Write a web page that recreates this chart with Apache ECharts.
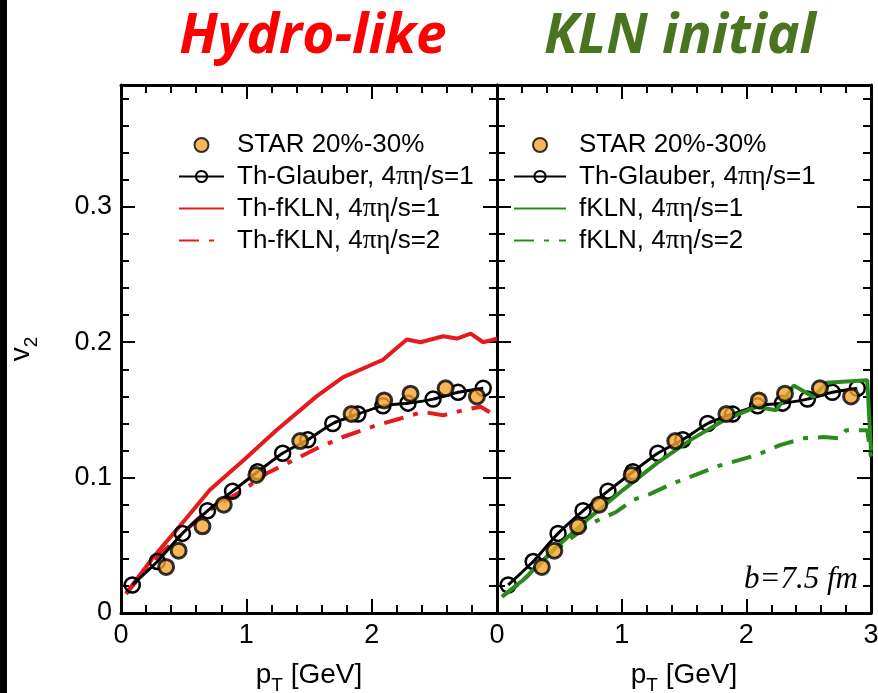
<!DOCTYPE html>
<html>
<head>
<meta charset="utf-8">
<script src="https://cdn.jsdelivr.net/npm/echarts@6/dist/echarts.min.js"></script>
<style>html,body{margin:0;padding:0;background:#fff}#c{width:878px;height:693px}</style>
</head>
<body>
<div id="c"></div>
<script>
// ---- data ----
const STAR_PT = [0.36, 0.46, 0.65, 0.82, 1.08, 1.43, 1.84, 2.10, 2.31, 2.59, 2.84];
const STAR_V2 = [0.034, 0.046, 0.064, 0.080, 0.102, 0.127, 0.147, 0.157, 0.162, 0.166, 0.160];

const GLAUBER_PT = [0.09, 0.29, 0.49, 0.69, 0.89, 1.09, 1.29, 1.49, 1.69, 1.89, 2.09, 2.29, 2.49, 2.69, 2.89];
const GLAUBER_V2 = [0.0207, 0.038, 0.0588, 0.0755, 0.090, 0.1043, 0.118, 0.128, 0.140, 0.147, 0.153, 0.155, 0.158, 0.163, 0.166];

const THFKLN1_PT = [0.04, 0.26, 0.44, 0.71, 0.98, 1.24, 1.56, 1.77, 2.04, 2.09, 2.28, 2.39, 2.57, 2.68, 2.79, 2.89, 3.0];
const THFKLN1_V2 = [0.0145, 0.0416, 0.061, 0.091, 0.113, 0.135, 0.160, 0.174, 0.185, 0.187, 0.202, 0.200, 0.2044, 0.2027, 0.2064, 0.200, 0.2027];

const THFKLN2_PT = [0.04, 0.26, 0.45, 0.66, 0.98, 1.16, 1.40, 1.56, 1.77, 2.04, 2.23, 2.41, 2.57, 2.73, 2.87, 3.0];
const THFKLN2_V2 = [0.014, 0.039, 0.055, 0.0736, 0.091, 0.103, 0.114, 0.1215, 0.130, 0.1387, 0.1437, 0.1486, 0.146, 0.1498, 0.1523, 0.145];

const FKLN1_PT = [0.04, 0.21, 0.48, 0.75, 1.01, 1.28, 1.55, 1.82, 2.08, 2.24, 2.38, 2.54, 2.64, 2.97, 3.0];
const FKLN1_V2 = [0.012, 0.0244, 0.049, 0.071, 0.0908, 0.1105, 0.1277, 0.1424, 0.1523, 0.1498, 0.168, 0.1596, 0.170, 0.172, 0.12];

const FKLN2_PT = [0.04, 0.21, 0.43, 0.75, 0.96, 1.09, 1.23, 1.41, 1.79, 2.08, 2.27, 2.46, 2.62, 2.75, 2.80, 2.97, 3.0];
const FKLN2_V2 = [0.012, 0.024, 0.044, 0.066, 0.0748, 0.0834, 0.088, 0.0957, 0.109, 0.1166, 0.124, 0.129, 0.130, 0.129, 0.135, 0.135, 0.115];

const NAMES_LEFT = ['STAR 20%-30%', 'Th-Glauber, 4πη/s=1', 'Th-fKLN, 4πη/s=1', 'Th-fKLN, 4πη/s=2'];
const NAMES_RIGHT = ['STAR 20%-30%', 'Th-Glauber, 4πη/s=1', 'fKLN, 4πη/s=1', 'fKLN, 4πη/s=2'];
const PANEL_TITLES = ['Hydro-like', 'KLN initial'];
const X_MIN = 0, X_MAX = 3, X_STEP = 1;
const Y_MIN = 0, Y_MAX = 0.39, Y_STEP = 0.1, Y_MINOR = 0.02;

// ---- helpers ----
const zip = (a, b) => a.map((x, i) => [x, b[i]]);
const FONT = 'Liberation Sans';
const RED = '#e41a1c', GREEN = '#2b8a1e', ORANGE = '#f5a431';
const axisLineStyle = { color: '#000', width: 3 };
const tickStyle = { color: '#000', width: 2 };
const nameRich = {
  a: { fontSize: 28, lineHeight: 40, fontFamily: FONT, color: '#000' },
  s: { fontSize: 19, lineHeight: 16, verticalAlign: 'bottom', fontFamily: FONT, color: '#000' }
};

const GRID_BOX = [
  { left: 121, top: 85, width: 376, height: 528 },
  { left: 497, top: 85, width: 374, height: 528 }
];

function xAxes(gi, hideLast) {
  const base = {
    gridIndex: gi, type: 'value', min: X_MIN, max: X_MAX, interval: X_STEP,
    splitLine: { show: false },
    axisLine: { show: true, onZero: false, lineStyle: axisLineStyle },
    axisTick: { inside: true, length: 14, lineStyle: tickStyle },
    minorTick: { show: true, splitNumber: 5, length: 8, lineStyle: tickStyle }
  };
  return [
    Object.assign({}, base, {
      position: 'bottom',
      axisLabel: { fontSize: 27, color: '#000', fontFamily: FONT, margin: 9,
        formatter: v => (hideLast && v === X_MAX) ? '' : String(v) },
      name: '{a|p}{s|T}{a| [GeV]}', nameLocation: 'middle', nameGap: 42,
      nameTextStyle: { rich: nameRich }
    }),
    Object.assign({}, base, { position: 'top', axisLabel: { show: false } })
  ];
}
function yMajor(gi, pos, showLabels) {
  const a = {
    gridIndex: gi, type: 'value', min: Y_MIN, max: Y_MAX, interval: Y_STEP, position: pos,
    splitLine: { show: false },
    axisLine: { show: true, onZero: false, lineStyle: axisLineStyle },
    axisTick: { inside: true, length: 14, lineStyle: tickStyle },
    axisLabel: { show: showLabels, showMaxLabel: false, fontSize: 27, color: '#000',
      fontFamily: FONT, margin: 9, formatter: v => v === 0 ? '0' : v.toFixed(1) }
  };
  if (showLabels) {
    a.name = '{a|v}{s|2}'; a.nameLocation = 'middle'; a.nameGap = 80;
    a.nameTextStyle = { rich: nameRich };
  }
  return a;
}
function yMinor(gi, pos) {
  return {
    gridIndex: gi, type: 'value', min: Y_MIN, max: Y_MAX, interval: Y_MINOR, position: pos,
    splitLine: { show: false }, axisLine: { show: false },
    axisTick: { inside: true, length: 8, lineStyle: tickStyle },
    axisLabel: { show: false }
  };
}
const hiddenX = gi => ({ gridIndex: gi, type: 'value', min: X_MIN, max: X_MAX, show: false });

// grids 0,1: data + major ticks; grids 2,3: same boxes, minor y ticks only
const xAxisArr = [...xAxes(0, true), ...xAxes(1, false), hiddenX(2), hiddenX(3)];
const yAxisArr = [
  yMajor(0, 'left', true), yMajor(0, 'right', false),
  yMajor(1, 'left', false), yMajor(1, 'right', false),
  yMinor(2, 'left'), yMinor(2, 'right'),
  yMinor(3, 'left'), yMinor(3, 'right')
];

function starSeries(name, xi, yi) {
  return { name, type: 'scatter', xAxisIndex: xi, yAxisIndex: yi, data: zip(STAR_PT, STAR_V2),
    symbol: 'circle', symbolSize: 15, z: 5,
    itemStyle: { color: ORANGE, borderColor: '#000', borderWidth: 3 } };
}
function glauberSeries(name, xi, yi, z) {
  return { name, type: 'line', xAxisIndex: xi, yAxisIndex: yi, data: zip(GLAUBER_PT, GLAUBER_V2),
    symbol: 'circle', symbolSize: 15, showSymbol: true, z: z, smooth: 0.2,
    lineStyle: { color: '#000', width: 3 },
    itemStyle: { color: 'rgba(255,255,255,0)', borderColor: '#000', borderWidth: 2.5 } };
}
function curve(name, xi, yi, px, pv, color, dashed, z) {
  return { name, type: 'line', xAxisIndex: xi, yAxisIndex: yi, data: zip(px, pv),
    symbol: 'none', z: z,
    lineStyle: { color: color, width: 4, type: dashed ? [20, 10, 5, 10] : 'solid', cap: 'butt' },
    itemStyle: { color: color } };
}

const series = [
  curve(NAMES_LEFT[2], 0, 0, THFKLN1_PT, THFKLN1_V2, RED, false, 2),
  curve(NAMES_LEFT[3], 0, 0, THFKLN2_PT, THFKLN2_V2, RED, true, 2),
  glauberSeries(NAMES_LEFT[1], 0, 0, 3),
  starSeries(NAMES_LEFT[0], 0, 0),
  glauberSeries(NAMES_RIGHT[1], 2, 2, 2),
  curve(NAMES_RIGHT[3], 2, 2, FKLN2_PT, FKLN2_V2, GREEN, true, 3),
  curve(NAMES_RIGHT[2], 2, 2, FKLN1_PT, FKLN1_V2, GREEN, false, 4),
  starSeries(NAMES_RIGHT[0], 2, 2)
];

const legendText = {
  fontSize: 26, fontFamily: FONT, color: '#000', lineHeight: 26, padding: [0, 0, 0, 8],
  rich: { g: { fontSize: 27, fontFamily: 'Liberation Serif', color: '#000' } }
};
const fmt = n => n.replace('πη', '{g|πη}');
const legendData = names => names.map((n, i) => i >= 2 ? { name: n, itemStyle: { opacity: 0 } } : { name: n });

const gridOpt = b => Object.assign({ containLabel: false, outerBoundsMode: 'none' }, b);

const option = {
  animation: false,
  backgroundColor: '#fff',
  grid: [gridOpt(GRID_BOX[0]), gridOpt(GRID_BOX[1]), gridOpt(GRID_BOX[0]), gridOpt(GRID_BOX[1])],
  xAxis: xAxisArr,
  yAxis: yAxisArr,
  legend: [
    { data: legendData(NAMES_LEFT), orient: 'vertical', left: 173, top: 127, itemWidth: 45, itemHeight: 14,
      itemGap: 5, selectedMode: false, textStyle: legendText, formatter: fmt },
    { data: legendData(NAMES_RIGHT), orient: 'vertical', left: 508, top: 127, itemWidth: 52, itemHeight: 14,
      itemGap: 5, selectedMode: false, textStyle: legendText, formatter: fmt }
  ],
  graphic: [
    { type: 'rect', shape: { x: 0, y: 0, width: 7, height: 693 }, style: { fill: '#000' } },
    { type: 'text', x: 313, y: 37, style: { text: PANEL_TITLES[0], fill: '#ff0000',
      font: 'italic bold 55px "Open Sans"', textAlign: 'center', textVerticalAlign: 'middle' } },
    { type: 'text', x: 680, y: 37, style: { text: PANEL_TITLES[1], fill: '#4a7420',
      font: 'italic bold 55px "Open Sans"', textAlign: 'center', textVerticalAlign: 'middle' } },
    { type: 'text', x: 858, y: 580, style: { text: 'b=7.5 fm', fill: '#000',
      font: 'italic 31px "Liberation Serif"', textAlign: 'right', textVerticalAlign: 'middle' } }
  ],
  series: series
};

const chart = echarts.init(document.getElementById('c'), null, { renderer: 'canvas' });
chart.setOption(option);
</script>
</body>
</html>
